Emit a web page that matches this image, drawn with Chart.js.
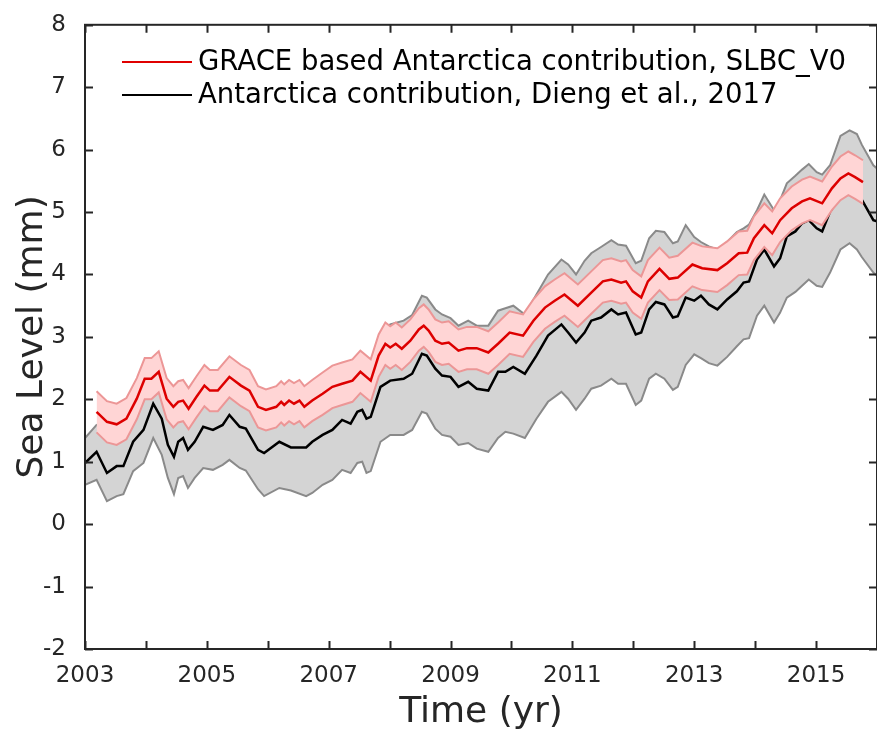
<!DOCTYPE html>
<html><head><meta charset="utf-8">
<style>html,body{margin:0;padding:0;overflow:hidden;background:#fff;width:877px;height:733px}
canvas{position:absolute;left:0;top:0}</style>
<script src="https://cdn.jsdelivr.net/npm/chart.js@4.4.0/dist/chart.umd.min.js"></script>
</head><body><canvas id="c" width="882" height="733"></canvas>
<script>
// ---- data ----
const years = [
2003.00,2003.19,2003.36,2003.52,2003.63,2003.79,2003.96,2004.12,2004.26,2004.36,
2004.46,2004.53,2004.61,2004.69,2004.80,2004.94,2005.10,2005.26,2005.37,2005.54,
2005.64,2005.84,2005.94,2006.19,2006.38,2006.63,2006.73,2006.90,2007.06,2007.22,
2007.36,2007.47,2007.55,2007.62,2007.69,2007.85,2008.01,2008.23,2008.37,2008.53,
2008.61,2008.75,2008.86,2009.00,2009.13,2009.29,2009.43,2009.62,2009.78,2009.90,
2010.03,2010.22,2010.41,2010.60,2010.82,2010.93,2011.06,2011.20,2011.31,2011.47,
2011.64,2011.75,2011.88,2012.04,2012.13,2012.26,2012.37,2012.51,2012.65,2012.73,
2012.86,2013.00,2013.11,2013.24,2013.38,2013.54,2013.70,2013.81,2013.90,2014.03,
2014.15,2014.31,2014.41,2014.52,2014.66,2014.77,2014.88,2015.01,2015.10,2015.23,
2015.40,2015.55,2015.67,2015.75,2015.94,2016.00];
const dieng = [
0.98,1.16,0.82,0.93,0.93,1.32,1.51,1.93,1.69,1.27,
1.08,1.32,1.38,1.19,1.32,1.56,1.51,1.59,1.75,1.56,
1.53,1.19,1.14,1.32,1.23,1.23,1.32,1.43,1.51,1.67,
1.61,1.80,1.83,1.69,1.72,2.20,2.30,2.33,2.41,2.73,
2.70,2.49,2.38,2.36,2.20,2.28,2.17,2.14,2.44,2.44,
2.52,2.41,2.70,3.02,3.20,3.07,2.91,3.07,3.26,3.31,
3.44,3.36,3.39,3.04,3.07,3.44,3.56,3.52,3.31,3.33,
3.63,3.58,3.66,3.52,3.44,3.60,3.73,3.87,3.89,4.24,
4.40,4.13,4.26,4.61,4.69,4.82,4.87,4.74,4.69,5.01,
5.25,5.35,5.30,5.20,4.87,4.85];
const diengUpper = [
1.38,1.59,1.62,1.60,1.65,1.90,2.25,2.40,2.30,2.00,
1.88,1.95,1.98,1.86,2.00,2.20,2.14,2.25,2.36,2.24,
2.18,1.88,1.84,1.93,1.95,1.92,1.98,2.09,2.20,2.25,
2.30,2.40,2.44,2.35,2.35,3.00,3.20,3.26,3.35,3.66,
3.63,3.44,3.36,3.30,3.18,3.26,3.18,3.18,3.42,3.46,
3.50,3.36,3.68,4.00,4.24,4.16,4.00,4.22,4.34,4.44,
4.55,4.48,4.46,4.18,4.22,4.58,4.70,4.68,4.50,4.53,
4.79,4.60,4.52,4.45,4.40,4.52,4.68,4.74,4.80,5.03,
5.28,5.03,5.19,5.46,5.58,5.68,5.77,5.64,5.60,5.75,
6.22,6.31,6.25,6.08,5.75,5.70];
const diengLower = [
0.63,0.71,0.37,0.45,0.48,0.85,0.98,1.38,1.11,0.74,
0.48,0.74,0.77,0.58,0.74,0.90,0.87,0.95,1.03,0.90,
0.86,0.56,0.45,0.58,0.54,0.45,0.50,0.63,0.71,0.87,
0.82,0.98,1.00,0.82,0.85,1.32,1.43,1.43,1.51,1.80,
1.77,1.53,1.43,1.40,1.27,1.30,1.21,1.16,1.38,1.48,
1.45,1.38,1.69,1.96,2.12,2.01,1.83,2.01,2.17,2.22,
2.33,2.25,2.25,1.91,1.98,2.33,2.41,2.33,2.15,2.20,
2.55,2.72,2.66,2.58,2.54,2.68,2.85,2.96,2.98,3.34,
3.50,3.23,3.39,3.63,3.72,3.82,3.92,3.82,3.80,4.03,
4.40,4.50,4.40,4.28,4.03,3.98];
const graceYears = [
2003.19,2003.36,2003.52,2003.68,2003.85,2003.98,2004.09,2004.21,2004.34,2004.45,
2004.53,2004.61,2004.70,2004.83,2004.96,2005.05,2005.18,2005.37,2005.56,2005.70,
2005.84,2005.97,2006.14,2006.22,2006.27,2006.35,2006.43,2006.52,2006.60,2006.73,
2006.90,2007.06,2007.22,2007.39,2007.52,2007.69,2007.82,2007.93,2008.01,2008.10,
2008.20,2008.34,2008.48,2008.56,2008.64,2008.75,2008.86,2008.97,2009.13,2009.27,
2009.43,2009.62,2009.78,2009.97,2010.19,2010.36,2010.55,2010.71,2010.87,2011.09,
2011.31,2011.50,2011.64,2011.80,2011.88,2011.99,2012.13,2012.24,2012.43,2012.59,
2012.73,2012.97,2013.13,2013.38,2013.54,2013.73,2013.87,2013.98,2014.15,2014.28,
2014.41,2014.60,2014.77,2014.90,2015.10,2015.26,2015.40,2015.53,2015.64,2015.77];
const grace = [
1.80,1.64,1.60,1.69,2.01,2.33,2.33,2.44,2.01,1.88,
1.96,1.98,1.85,2.04,2.22,2.14,2.14,2.36,2.22,2.14,
1.88,1.83,1.88,1.96,1.91,1.98,1.93,1.98,1.88,1.98,
2.09,2.20,2.25,2.30,2.44,2.30,2.70,2.89,2.83,2.89,
2.81,2.94,3.12,3.18,3.10,2.94,2.89,2.91,2.78,2.82,
2.82,2.75,2.89,3.07,3.02,3.26,3.47,3.58,3.68,3.50,
3.71,3.89,3.92,3.87,3.89,3.73,3.63,3.89,4.09,3.93,
3.95,4.16,4.10,4.07,4.18,4.34,4.35,4.58,4.79,4.66,
4.87,5.06,5.17,5.22,5.14,5.38,5.54,5.62,5.56,5.48];
const graceErr = [
0.33,0.33,0.33,0.33,0.33,0.33,0.33,0.33,0.33,0.33,
0.33,0.33,0.33,0.33,0.33,0.33,0.33,0.33,0.33,0.33,
0.33,0.33,0.33,0.33,0.33,0.33,0.33,0.33,0.33,0.33,
0.34,0.34,0.34,0.34,0.34,0.34,0.34,0.34,0.34,0.34,
0.34,0.34,0.34,0.34,0.34,0.34,0.34,0.34,0.34,0.34,
0.34,0.34,0.34,0.34,0.34,0.34,0.34,0.34,0.34,0.34,
0.34,0.34,0.34,0.34,0.34,0.34,0.34,0.34,0.34,0.34,
0.35,0.35,0.35,0.35,0.35,0.35,0.35,0.35,0.35,0.35,
0.35,0.35,0.35,0.35,0.35,0.35,0.35,0.35,0.35,0.35];
const xTickLabels = ['2003','2005','2007','2009','2011','2013','2015'];
const yTickLabels = ['-2','-1','0','1','2','3','4','5','6','7','8'];
const legendLabels = ['GRACE based Antarctica contribution, SLBC_V0','Antarctica contribution, Dieng et al., 2017'];
const xTitle = 'Time (yr)';
const yTitle = 'Sea Level (mm)';

// ---- chart ----
const FONT = "'DejaVu Sans', sans-serif";
const AX = '#262626';
const pts = (xs, ys) => xs.map((x, i) => ({x: x, y: ys[i]}));
const graceUp = grace.map((v, i) => v + graceErr[i]);
const graceLo = grace.map((v, i) => v - graceErr[i]);
const common = {pointRadius: 0, pointHoverRadius: 0, tension: 0};

const boxPlugin = {
  id: 'box',
  afterDatasetsDraw(chart) {
    const {ctx, chartArea: a, scales: {x, y}} = chart;
    ctx.save();
    ctx.strokeStyle = AX; ctx.lineWidth = 2;
    ctx.strokeRect(a.left, a.top, a.right - a.left, a.bottom - a.top);
    const L = 8;
    ctx.beginPath();
    x.ticks.forEach(t => {
      const p = Math.round(x.getPixelForValue(t.value)) + 0.5;
      ctx.moveTo(p, a.bottom); ctx.lineTo(p, a.bottom - L);
      ctx.moveTo(p, a.top); ctx.lineTo(p, a.top + L);
    });
    y.ticks.forEach(t => {
      const p = Math.round(y.getPixelForValue(t.value)) + 0.5;
      ctx.moveTo(a.left, p); ctx.lineTo(a.left + L, p);
      ctx.moveTo(a.right, p); ctx.lineTo(a.right - L, p);
    });
    ctx.stroke();
    ctx.restore();
  }
};
const legendPlugin = {
  id: 'legendBox',
  afterDraw(chart) {
    const {ctx} = chart;
    const rows = [{c: '#e00000', y: 62}, {c: '#000000', y: 95}];
    ctx.save();
    ctx.font = "27.5px " + FONT;
    ctx.textBaseline = 'middle';
    ctx.textAlign = 'left';
    rows.forEach((r, i) => {
      ctx.strokeStyle = r.c; ctx.lineWidth = 2;
      ctx.beginPath(); ctx.moveTo(122, r.y); ctx.lineTo(192, r.y); ctx.stroke();
      ctx.fillStyle = '#000';
      ctx.fillText(legendLabels[i], 198, r.y + 1);
    });
    ctx.restore();
  }
};

new Chart(document.getElementById('c'), {
  type: 'line',
  data: {
    datasets: [
      Object.assign({label: 'Dieng upper', data: pts(years, diengUpper), borderColor: '#8a8a8a', borderWidth: 2,
        backgroundColor: 'rgb(212,212,212)', fill: '+1', order: 10}, common),
      Object.assign({label: 'Dieng lower', data: pts(years, diengLower), borderColor: '#8a8a8a', borderWidth: 2,
        fill: false, order: 9}, common),
      Object.assign({label: legendLabels[1], data: pts(years, dieng), borderColor: '#000000', borderWidth: 2.5,
        fill: false, order: 5}, common),
      Object.assign({label: 'GRACE upper', data: pts(graceYears, graceUp), borderColor: 'rgb(236,150,150)', borderWidth: 2,
        backgroundColor: 'rgb(255,213,213)', fill: '+1', order: 4}, common),
      Object.assign({label: 'GRACE lower', data: pts(graceYears, graceLo), borderColor: 'rgb(236,150,150)', borderWidth: 2,
        fill: false, order: 3}, common),
      Object.assign({label: legendLabels[0], data: pts(graceYears, grace), borderColor: '#dd0000', borderWidth: 2.5,
        fill: false, order: 1}, common)
    ]
  },
  options: {
    responsive: false, animation: false,
    layout: {padding: {left: 0, top: 20, right: 2, bottom: 0}},
    plugins: {legend: {display: false}, tooltip: {enabled: false}},
    scales: {
      x: {
        type: 'linear', min: 2003, max: 2016,
        grid: {display: false}, border: {display: false},
        ticks: {stepSize: 1, autoSkip: false, maxRotation: 0, padding: 5, color: AX,
          font: {family: FONT, size: 23},
          callback: v => xTickLabels.includes(String(v)) ? String(v) : ''},
        title: {display: true, text: xTitle, color: AX, font: {family: FONT, size: 36, lineHeight: 1},
          padding: {top: 0, bottom: 2}},
        afterFit(s) { s.height = 84; }
      },
      y: {
        type: 'linear', min: -2, max: 8,
        grid: {display: false}, border: {display: false},
        ticks: {stepSize: 1, autoSkip: false, padding: 11, color: AX,
          font: {family: FONT, size: 23},
          callback: v => yTickLabels.includes(String(v)) ? String(v) : ''},
        title: {display: true, text: yTitle, color: AX, font: {family: FONT, size: 36, lineHeight: 1},
          padding: {top: 15, bottom: 0}},
        afterFit(s) { s.width = 85; }
      }
    }
  },
  plugins: [boxPlugin, legendPlugin]
});
</script></body></html>
